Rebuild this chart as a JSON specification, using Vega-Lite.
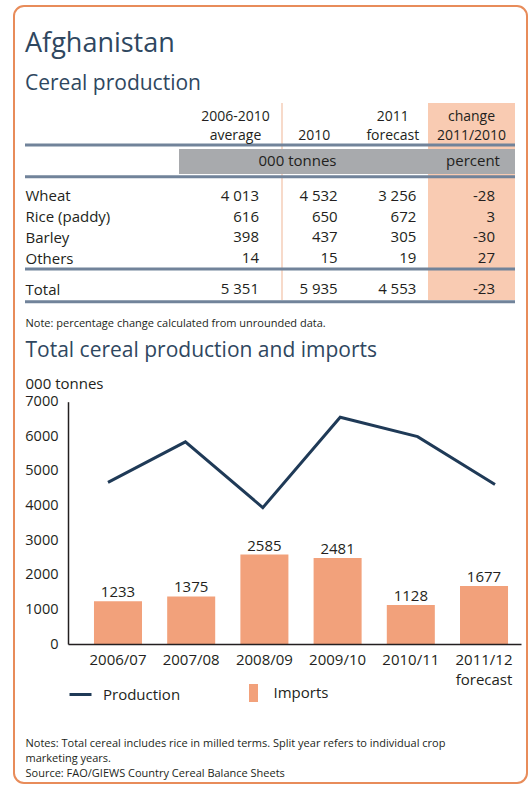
{
  "$schema": "https://vega.github.io/schema/vega-lite/v6.json",
  "width": 513,
  "height": 777,
  "autosize": {"type": "none"},
  "padding": {"left": 14, "top": 6, "right": 2, "bottom": 4},
  "background": "white",
  "title": {
    "text": "Afghanistan",
    "subtitle": "Cereal production",
    "anchor": "start",
    "frame": "group",
    "orient": "top",
    "offset": -89,
    "dx": 11,
    "font": "Open Sans",
    "fontSize": 27,
    "fontWeight": "normal",
    "color": "#2F4760",
    "subtitleFont": "Open Sans",
    "subtitleFontSize": 21,
    "subtitleColor": "#2F4760",
    "subtitlePadding": 15
  },
  "datasets": {
    "table": [
      {"item": "Wheat", "2006-2010 average": 4013, "2010": 4532, "2011 forecast": 3256, "change 2011/2010": -28},
      {"item": "Rice (paddy)", "2006-2010 average": 616, "2010": 650, "2011 forecast": 672, "change 2011/2010": 3},
      {"item": "Barley", "2006-2010 average": 398, "2010": 437, "2011 forecast": 305, "change 2011/2010": -30},
      {"item": "Others", "2006-2010 average": 14, "2010": 15, "2011 forecast": 19, "change 2011/2010": 27},
      {"item": "Total", "2006-2010 average": 5351, "2010": 5935, "2011 forecast": 4553, "change 2011/2010": -23}
    ],
    "cereal": [
      {"year": "2006/07", "production": 4670, "imports": 1233},
      {"year": "2007/08", "production": 5840, "imports": 1375},
      {"year": "2008/09", "production": 3940, "imports": 2585},
      {"year": "2009/10", "production": 6550, "imports": 2481},
      {"year": "2010/11", "production": 5990, "imports": 1128},
      {"year": "2011/12 forecast", "production": 4610, "imports": 1677}
    ]
  },
  "layer": [
    {
      "data": {"values": [{"column": "change 2011/2010"}]},
      "mark": {"type": "rect", "fill": "#F9CBB2"},
      "encoding": {
        "x": {"field": "column", "type": "nominal", "scale": {"type": "band", "range": [414, 501], "paddingInner": 0, "paddingOuter": 0}, "axis": null},
        "y": {"field": "column", "type": "nominal", "scale": {"type": "band", "range": [97, 294], "paddingInner": 0, "paddingOuter": 0}, "axis": null}
      }
    },
    {
      "data": {"values": [{"column": "2010"}]},
      "mark": {"type": "rect", "fill": "#F0B696"},
      "encoding": {
        "x": {"field": "column", "type": "nominal", "scale": {"type": "band", "range": [267.5, 268.5], "paddingInner": 0, "paddingOuter": 0}, "axis": null},
        "y": {"field": "column", "type": "nominal", "scale": {"type": "band", "range": [97, 294], "paddingInner": 0, "paddingOuter": 0}, "axis": null}
      }
    },
    {
      "data": {"values": [{"unit": "000 tonnes"}]},
      "mark": {"type": "rect", "fill": "#A8AAAD"},
      "encoding": {
        "x": {"field": "unit", "type": "nominal", "scale": {"type": "band", "range": [165, 501], "paddingInner": 0, "paddingOuter": 0}, "axis": null},
        "y": {"field": "unit", "type": "nominal", "scale": {"type": "band", "range": [143, 168], "paddingInner": 0, "paddingOuter": 0}, "axis": null}
      }
    },
    {
      "data": {"values": [{"rule": "header top"}, {"rule": "header bottom"}]},
      "mark": {"type": "rule", "stroke": "#71839A", "strokeWidth": 3},
      "encoding": {
        "y": {"field": "rule", "type": "nominal", "scale": {"type": "point", "domain": ["header top", "header bottom"], "range": [139, 170.7], "padding": 0}, "axis": null},
        "x": {"datum": 0, "type": "quantitative", "scale": {"domain": [0, 1], "range": [11, 501], "nice": false, "zero": false}, "axis": null},
        "x2": {"datum": 1}
      }
    },
    {
      "data": {"values": [{"rule": "body bottom"}, {"rule": "total bottom"}]},
      "mark": {"type": "rule", "stroke": "#71839A", "strokeWidth": 3},
      "encoding": {
        "y": {"field": "rule", "type": "nominal", "scale": {"type": "point", "domain": ["body bottom", "total bottom"], "range": [263, 295.7], "padding": 0}, "axis": null},
        "x": {"datum": 0, "type": "quantitative", "scale": {"domain": [0, 1], "range": [11, 501], "nice": false, "zero": false}, "axis": null},
        "x2": {"datum": 1}
      }
    },
    {
      "data": {"values": [{"unit": "000 tonnes"}, {"unit": "percent"}]},
      "mark": {"type": "text", "baseline": "alphabetic", "align": "center", "fontSize": 15, "color": "#231F20"},
      "encoding": {
        "text": {"field": "unit"},
        "x": {"field": "unit", "type": "nominal", "scale": {"type": "point", "domain": ["000 tonnes", "percent"], "range": [283.5, 459], "padding": 0}, "axis": null},
        "y": {"datum": "units", "type": "nominal", "scale": {"type": "point", "range": [160, 160], "padding": 0}, "axis": null}
      }
    },
    {
      "data": {"name": "table"},
      "transform": [
        {"filter": "datum.item !== 'Total'"},
        {"fold": ["2006-2010 average", "2010", "2011 forecast", "change 2011/2010"], "as": ["column", "value"]}
      ],
      "mark": {"type": "text", "align": "right", "baseline": "alphabetic", "fontSize": 15, "color": "#231F20"},
      "encoding": {
        "text": {"field": "value", "type": "quantitative", "format": ",d"},
        "x": {
          "field": "column", "type": "nominal",
          "scale": {"type": "point", "domain": ["2006-2010 average", "2010", "2011 forecast", "change 2011/2010"], "range": [245, 481], "padding": 0},
          "axis": {
            "orient": "top", "offset": -114.7, "zindex": 2,
            "labelExpr": "length(split(datum.value, ' ')) > 1 ? split(datum.value, ' ') : ['', datum.value]",
            "labelOffset": -24,
            "labelFontSize": 14, "labelLineHeight": 19.3, "labelPadding": 0, "labelBaseline": "alphabetic", "labelAngle": 0,
            "title": "Note: percentage change calculated from unrounded data.",
            "titleX": 11, "titleY": 205.3, "titleAlign": "left", "titleAnchor": "start", "titleBaseline": "alphabetic",
            "titleFontSize": 11, "titleFontWeight": "normal", "titleColor": "#231F20"
          }
        },
        "y": {
          "field": "item", "type": "nominal",
          "scale": {"type": "point", "domain": ["Wheat", "Rice (paddy)", "Barley", "Others"], "range": [194.7, 257.3], "padding": 0},
          "axis": {"orient": "left", "offset": -11, "zindex": 2, "labelAlign": "left", "labelBaseline": "alphabetic", "labelPadding": 0, "labelFontSize": 15, "title": null}
        }
      }
    },
    {
      "data": {"name": "table"},
      "transform": [
        {"filter": "datum.item === 'Total'"},
        {"fold": ["2006-2010 average", "2010", "2011 forecast", "change 2011/2010"], "as": ["column", "value"]}
      ],
      "mark": {"type": "text", "align": "right", "baseline": "alphabetic", "fontSize": 15, "color": "#231F20"},
      "encoding": {
        "text": {"field": "value", "type": "quantitative", "format": ",d"},
        "x": {
          "field": "column", "type": "nominal",
          "scale": {"type": "point", "domain": ["2006-2010 average", "2010", "2011 forecast", "change 2011/2010"], "range": [245, 481], "padding": 0},
          "axis": null
        },
        "y": {
          "field": "item", "type": "nominal",
          "scale": {"type": "point", "domain": ["Total"], "range": [288, 288], "padding": 0},
          "axis": {"orient": "left", "offset": -11, "zindex": 2, "labelAlign": "left", "labelBaseline": "alphabetic", "labelPadding": 0, "labelFontSize": 15, "title": null}
        }
      }
    },
    {
      "data": {"name": "cereal"},
      "layer": [
        {
          "layer": [
            {
              "mark": {"type": "bar"},
              "encoding": {
                "x": {
                  "field": "year", "type": "nominal", "sort": null,
                  "scale": {"type": "band", "range": [54, 507], "paddingInner": 0.344, "paddingOuter": 0.266, "align": 0.667},
                  "axis": {
                    "orient": "bottom", "offset": -139, "zindex": 2, "domain": true, "domainColor": "#231F20", "domainWidth": 1.5,
                    "labelExpr": "split(datum.value, ' ')", "labelFontSize": 15, "labelPadding": 8, "labelLineHeight": 20, "labelAngle": 0, "labelBaseline": "top",
                    "title": ["Notes: Total cereal includes rice in milled terms. Split year refers to individual crop", "marketing years.", "Source: FAO/GIEWS Country Cereal Balance Sheets"],
                    "titleX": 11, "titleY": 102, "titleAlign": "left", "titleAnchor": "start", "titleBaseline": "alphabetic",
                    "titleFontSize": 11, "titleFontWeight": "normal", "titleLineHeight": 15.3, "titleColor": "#231F20"
                  }
                },
                "y": {
                  "field": "imports", "type": "quantitative",
                  "scale": {"domain": [0, 7000], "range": [638, 395.7], "nice": false},
                  "axis": {
                    "orient": "left", "offset": -54, "zindex": 2, "domain": true, "domainColor": "#231F20", "domainWidth": 1.5,
                    "values": [0, 1000, 2000, 3000, 4000, 5000, 6000, 7000], "format": "d",
                    "labelFontSize": 14.5, "labelPadding": 10,
                    "title": "000 tonnes", "titleAngle": 0, "titleAlign": "left", "titleBaseline": "alphabetic",
                    "titleX": -43, "titleY": 382, "titleFontSize": 15, "titleFontWeight": "normal", "titleColor": "#231F20"
                  }
                },
                "fill": {
                  "datum": "Imports", "type": "nominal",
                  "scale": {"range": ["#F2A17B"]},
                  "legend": {"orient": "none", "legendX": 229.5, "legendY": 677, "title": null, "symbolType": "M-0.5,-1H0.5V1H-0.5Z", "symbolSize": 324, "labelOffset": 10, "labelFontSize": 15, "padding": 0}
                }
              }
            },
            {
              "mark": {"type": "text", "baseline": "alphabetic", "dy": -4, "fontSize": 15, "color": "#231F20"},
              "encoding": {
                "x": {"field": "year", "type": "nominal", "sort": null},
                "y": {"field": "imports", "type": "quantitative"},
                "text": {"field": "imports", "type": "quantitative", "format": "d"}
              }
            }
          ]
        },
        {
          "mark": {"type": "line", "strokeWidth": 3},
          "encoding": {
            "x": {
              "field": "year", "type": "nominal", "sort": null,
              "scale": {"type": "point", "range": [94, 481], "padding": 0},
              "axis": {
                "orient": "top", "labels": false, "domain": false, "zindex": 2,
                "title": "Total cereal production and imports",
                "titleX": 11, "titleY": 350.5, "titleAlign": "left", "titleAnchor": "start", "titleBaseline": "alphabetic",
                "titleFontSize": 21, "titleFontWeight": "normal", "titleColor": "#2F4760"
              }
            },
            "y": {
              "field": "production", "type": "quantitative",
              "scale": {"domain": [0, 7000], "range": [638, 395.7], "nice": false}
            },
            "stroke": {
              "datum": "Production", "type": "nominal",
              "scale": {"range": ["#1F3A57"]},
              "legend": {"orient": "none", "legendX": 54, "legendY": 676, "title": null, "symbolSize": 484, "symbolStrokeWidth": 3, "labelOffset": 10, "labelFontSize": 15, "padding": 0}
            }
          }
        }
      ],
      "resolve": {"scale": {"x": "independent"}}
    }
  ],
  "resolve": {"scale": {"x": "independent", "y": "independent"}},
  "config": {
    "font": "Open Sans",
    "view": {"stroke": "#E88C5A", "strokeWidth": 2, "cornerRadius": 10},
    "axis": {
      "labelFont": "Open Sans", "titleFont": "Open Sans", "labelColor": "#231F20", "titleColor": "#231F20",
      "grid": false, "ticks": false, "tickSize": 0, "domain": false,
      "labelOverlap": false, "labelBound": false, "labelFlush": false
    },
    "legend": {"labelFont": "Open Sans", "labelColor": "#231F20"},
    "text": {"font": "Open Sans"},
    "locale": {"number": {"decimal": ".", "thousands": " ", "grouping": [3], "currency": ["", ""], "minus": "-"}}
  }
}
